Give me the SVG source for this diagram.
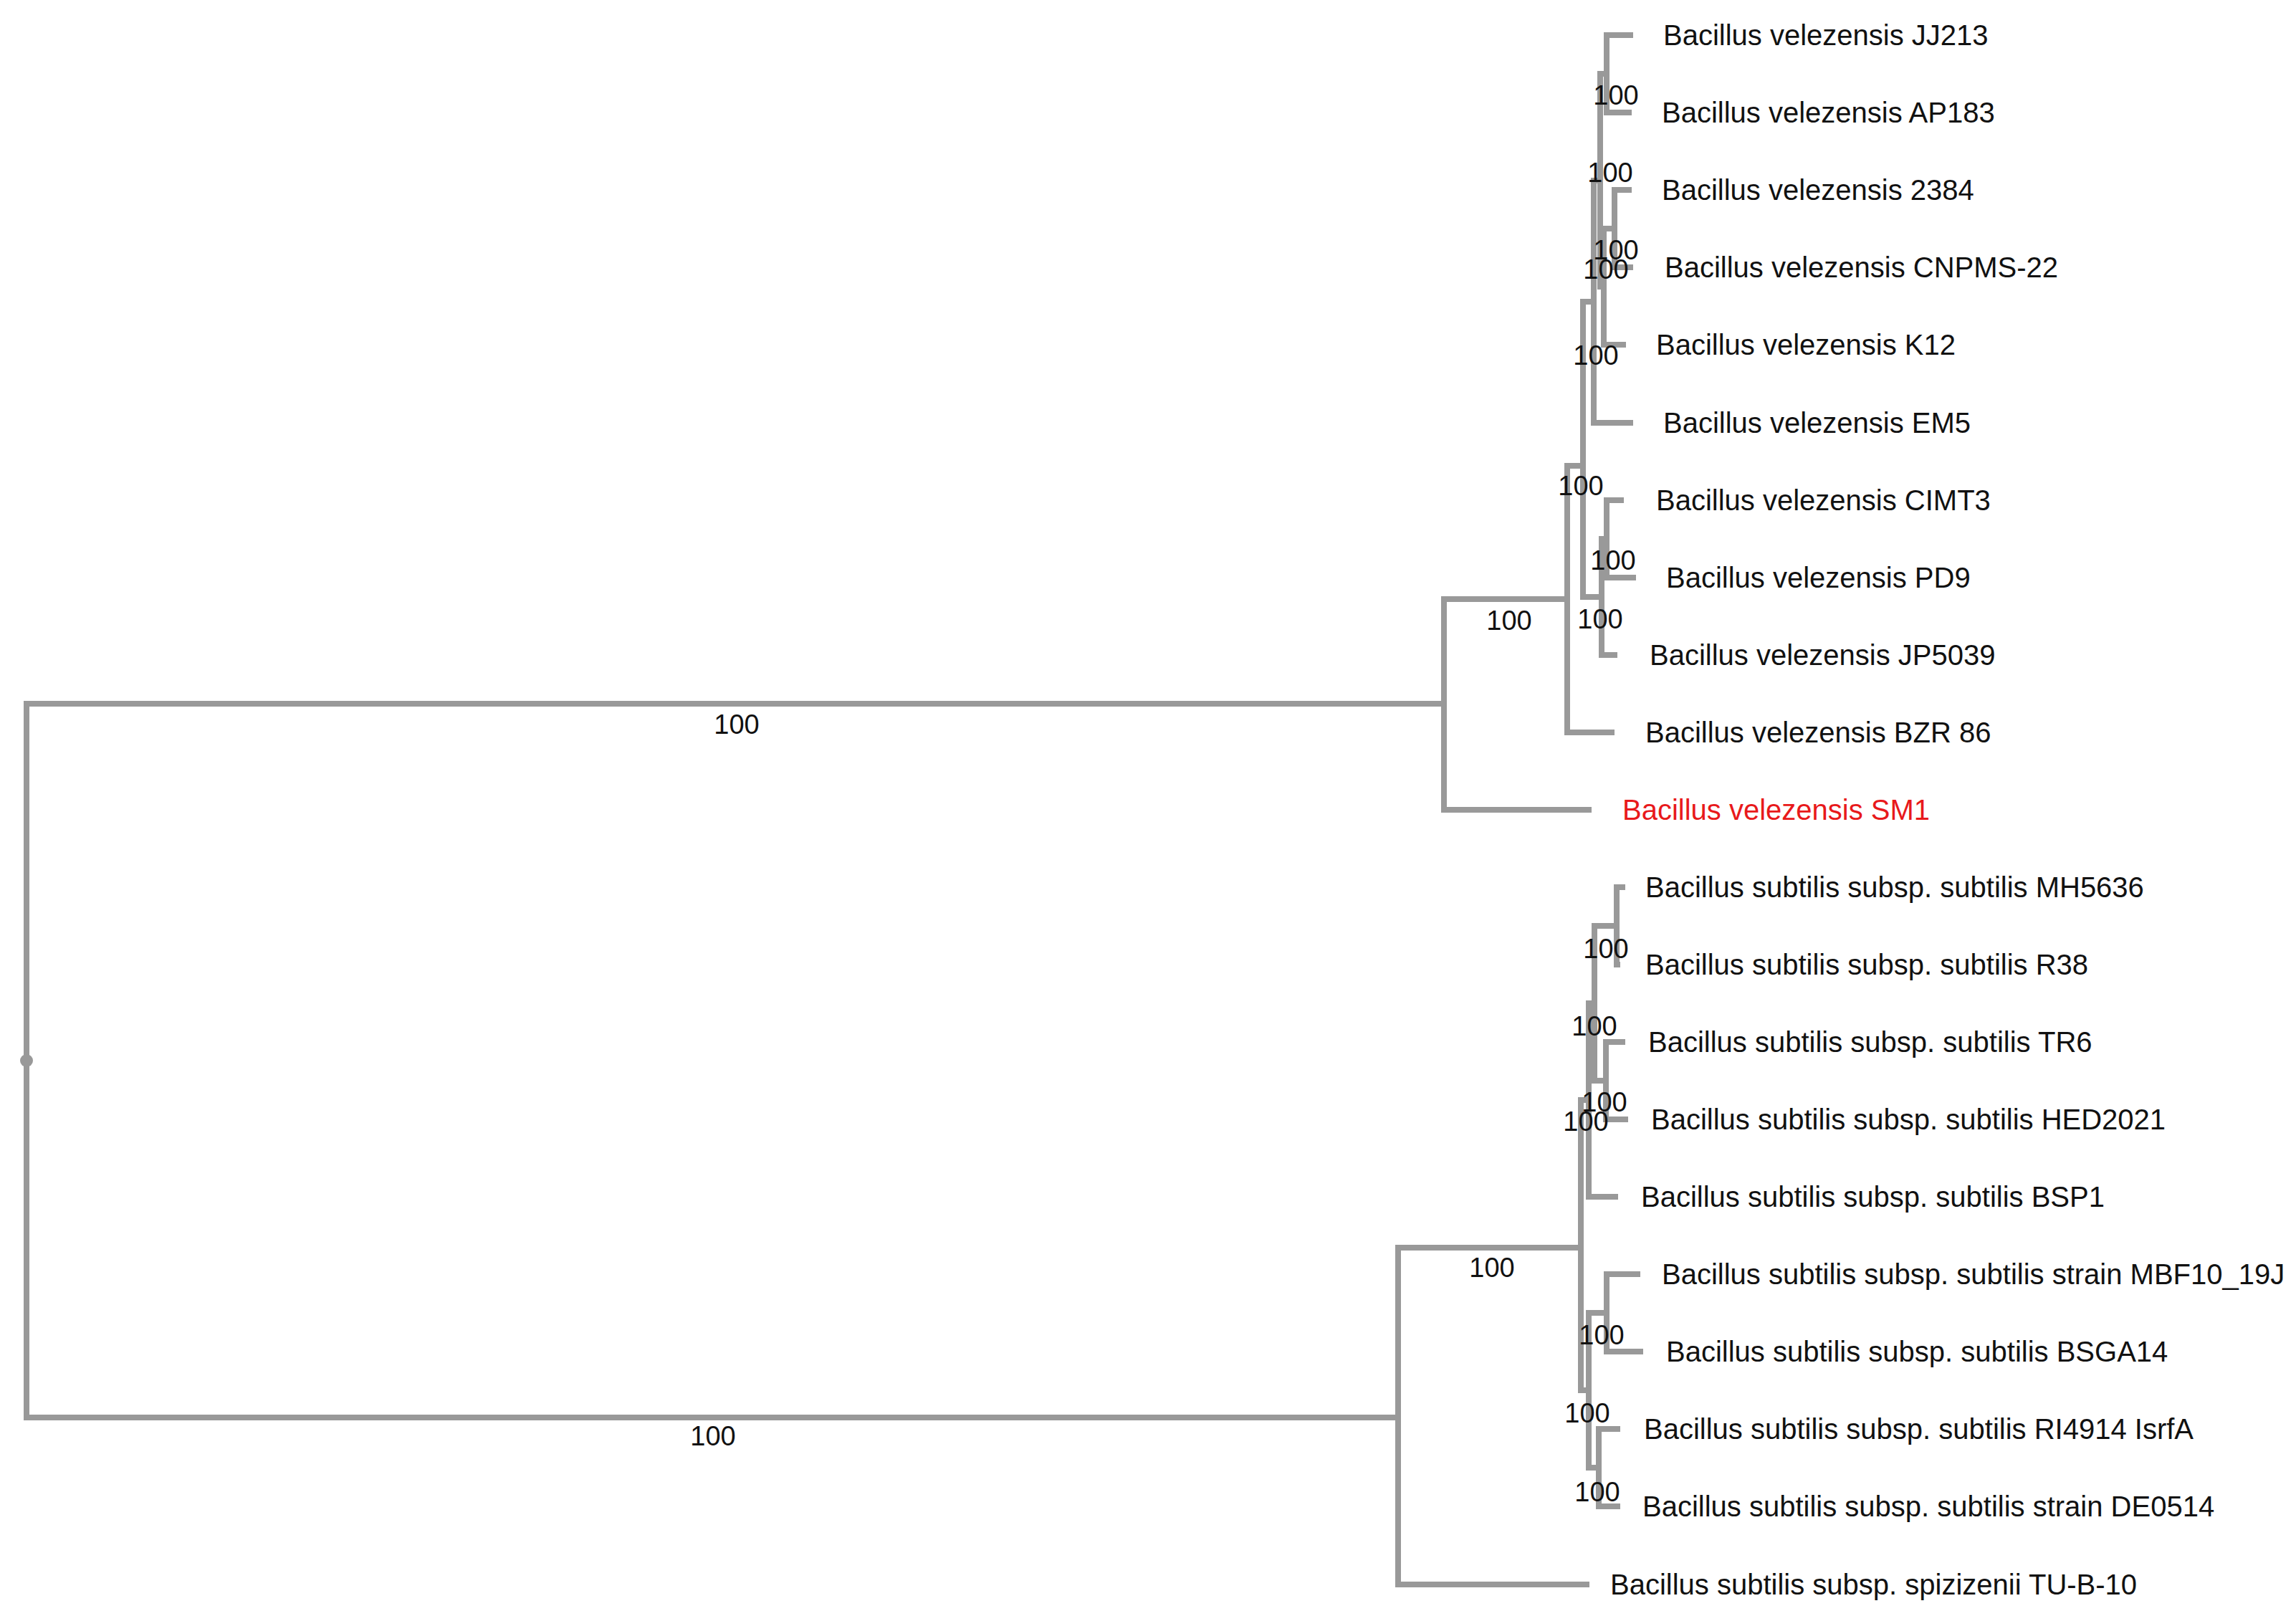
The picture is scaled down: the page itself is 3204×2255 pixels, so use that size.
<svg xmlns="http://www.w3.org/2000/svg" width="3204" height="2255" viewBox="0 0 3204 2255">
<style>
.e{fill:none;stroke:#999;stroke-width:8;stroke-linecap:square;stroke-linejoin:miter}
.t{font-family:"Liberation Sans",Arial,sans-serif;font-size:40px;fill:#111;dominant-baseline:central}
.b{font-family:"Liberation Sans",Arial,sans-serif;font-size:38px;fill:#111;text-anchor:middle;dominant-baseline:central}
.r{fill:#e8191b}
</style>
<rect width="3204" height="2255" fill="#fff"/>
<g id="connectors">
<path class="e" d="M37 982V1978M37 982H2015M37 1978H1951"/>
<path class="e" d="M2015 836V1130M2015 836H2187M2015 1130H2217"/>
<path class="e" d="M2187 650V1022M2187 650H2209M2187 1022H2249"/>
<path class="e" d="M2209 421V833M2209 421H2224M2209 833H2235"/>
<path class="e" d="M2224 252V590M2224 252H2233M2224 590H2275"/>
<path class="e" d="M2233 103V400M2233 103H2242M2233 400H2238"/>
<path class="e" d="M2242 49V157M2242 49H2275M2242 157H2273"/>
<path class="e" d="M2238 319V481M2238 319H2253M2238 481H2265"/>
<path class="e" d="M2253 265V373M2253 265H2273M2253 373H2275"/>
<path class="e" d="M2235 752V914M2235 752H2242M2235 914H2253"/>
<path class="e" d="M2242 698V806M2242 698H2262M2242 806H2279"/>
<path class="e" d="M1951 1741V2211M1951 1741H2206M1951 2211H2214"/>
<path class="e" d="M2206 1535V1940M2206 1535H2217M2206 1940H2217"/>
<path class="e" d="M2217 1400V1670M2217 1400H2225M2217 1670H2254"/>
<path class="e" d="M2225 1292V1508M2225 1292H2256M2225 1508H2241"/>
<path class="e" d="M2256 1238V1346M2256 1238H2264M2256 1346H2257"/>
<path class="e" d="M2241 1454V1562M2241 1454H2264M2241 1562H2268"/>
<path class="e" d="M2217 1832V2048M2217 1832H2242M2217 2048H2231"/>
<path class="e" d="M2242 1778V1886M2242 1778H2285M2242 1886H2289"/>
<path class="e" d="M2231 1994V2102M2231 1994H2257M2231 2102H2257"/>
<circle cx="37" cy="1480" r="9" fill="#999"/>
</g>
<g id="support">
<text class="b" x="1028" y="1011">100</text>
<text class="b" x="995" y="2004">100</text>
<text class="b" x="2255" y="133">100</text>
<text class="b" x="2247" y="241">100</text>
<text class="b" x="2255" y="349">100</text>
<text class="b" x="2241" y="376">100</text>
<text class="b" x="2227" y="496">100</text>
<text class="b" x="2206" y="678">100</text>
<text class="b" x="2251" y="782">100</text>
<text class="b" x="2233" y="864">100</text>
<text class="b" x="2106" y="866">100</text>
<text class="b" x="2241" y="1324">100</text>
<text class="b" x="2225" y="1432">100</text>
<text class="b" x="2239" y="1538">100</text>
<text class="b" x="2213" y="1565">100</text>
<text class="b" x="2082" y="1769">100</text>
<text class="b" x="2235" y="1863">100</text>
<text class="b" x="2215" y="1972">100</text>
<text class="b" x="2229" y="2082">100</text>
</g>
<g id="leaves">
<text id="n1" class="t" x="2321" y="49">Bacillus velezensis JJ213</text>
<text id="n2" class="t" x="2319" y="157">Bacillus velezensis AP183</text>
<text id="n3" class="t" x="2319" y="265">Bacillus velezensis 2384</text>
<text id="n4" class="t" x="2323" y="373">Bacillus velezensis CNPMS-22</text>
<text id="n5" class="t" x="2311" y="481">Bacillus velezensis K12</text>
<text id="n6" class="t" x="2321" y="590">Bacillus velezensis EM5</text>
<text id="n7" class="t" x="2311" y="698">Bacillus velezensis CIMT3</text>
<text id="n8" class="t" x="2325" y="806">Bacillus velezensis PD9</text>
<text id="n9" class="t" x="2302" y="914">Bacillus velezensis JP5039</text>
<text id="n10" class="t" x="2296" y="1022">Bacillus velezensis BZR 86</text>
<text id="n11" class="t r" x="2264" y="1130">Bacillus velezensis SM1</text>
<text id="n12" class="t" x="2296" y="1238">Bacillus subtilis subsp. subtilis MH5636</text>
<text id="n13" class="t" x="2296" y="1346">Bacillus subtilis subsp. subtilis R38</text>
<text id="n14" class="t" x="2300" y="1454">Bacillus subtilis subsp. subtilis TR6</text>
<text id="n15" class="t" x="2304" y="1562">Bacillus subtilis subsp. subtilis HED2021</text>
<text id="n16" class="t" x="2290" y="1670">Bacillus subtilis subsp. subtilis BSP1</text>
<text id="n17" class="t" x="2319" y="1778">Bacillus subtilis subsp. subtilis strain MBF10_19J</text>
<text id="n18" class="t" x="2325" y="1886">Bacillus subtilis subsp. subtilis BSGA14</text>
<text id="n19" class="t" x="2294" y="1994">Bacillus subtilis subsp. subtilis RI4914 IsrfA</text>
<text id="n20" class="t" x="2292" y="2102">Bacillus subtilis subsp. subtilis strain DE0514</text>
<text id="n21" class="t" x="2247" y="2211">Bacillus subtilis subsp. spizizenii TU-B-10</text>
</g>
</svg>
